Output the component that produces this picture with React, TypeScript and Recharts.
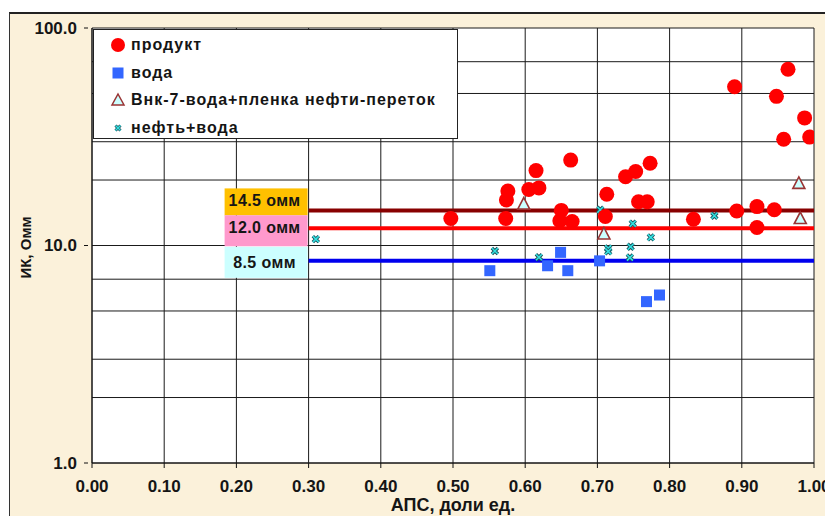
import React from "react";
import {
  ScatterChart,
  Scatter,
  XAxis,
  YAxis,
  CartesianGrid,
  ReferenceLine,
} from "recharts";

// точки: АПС (доли ед.) / ИК (Омм)
const productData = [
  { x: 0.497, y: 13.3 },
  { x: 0.576, y: 17.8 },
  { x: 0.574, y: 16.2 },
  { x: 0.573, y: 13.3 },
  { x: 0.605, y: 18.1 },
  { x: 0.619, y: 18.4 },
  { x: 0.615, y: 22.1 },
  { x: 0.65, y: 14.5 },
  { x: 0.648, y: 13.0 },
  { x: 0.665, y: 12.9 },
  { x: 0.663, y: 24.7 },
  { x: 0.713, y: 17.2 },
  { x: 0.711, y: 13.6 },
  { x: 0.739, y: 20.7 },
  { x: 0.753, y: 21.9 },
  { x: 0.773, y: 23.9 },
  { x: 0.757, y: 15.9 },
  { x: 0.769, y: 15.9 },
  { x: 0.833, y: 13.2 },
  { x: 0.893, y: 14.4 },
  { x: 0.921, y: 15.1 },
  { x: 0.921, y: 12.1 },
  { x: 0.945, y: 14.6 },
  { x: 0.89, y: 53.7 },
  { x: 0.964, y: 64.6 },
  { x: 0.948, y: 48.5 },
  { x: 0.987, y: 38.6 },
  { x: 0.958, y: 30.8 },
  { x: 0.994, y: 31.5 },
];

const waterData = [
  { x: 0.551, y: 7.66 },
  { x: 0.631, y: 8.07 },
  { x: 0.649, y: 9.3 },
  { x: 0.659, y: 7.66 },
  { x: 0.703, y: 8.5 },
  { x: 0.768, y: 5.52 },
  { x: 0.786, y: 5.92 },
];

const vnkData = [
  { x: 0.598, y: 15.5 },
  { x: 0.709, y: 11.3 },
  { x: 0.979, y: 19.3 },
  { x: 0.981, y: 13.3 },
];

const oilWaterData = [
  { x: 0.31, y: 10.7 },
  { x: 0.558, y: 9.44 },
  { x: 0.619, y: 8.83 },
  { x: 0.66, y: 13.0 },
  { x: 0.704, y: 14.6 },
  { x: 0.715, y: 9.7 },
  { x: 0.715, y: 9.4 },
  { x: 0.749, y: 12.6 },
  { x: 0.746, y: 9.87 },
  { x: 0.745, y: 8.8 },
  { x: 0.774, y: 10.9 },
  { x: 0.862, y: 13.7 },
];

// граничные значения
const cutoffs = [
  { y: 14.5, text: "14.5 омм" },
  { y: 12.0, text: "12.0 омм" },
  { y: 8.5, text: "8.5 омм" },
];
const cutoffStart = 0.3;

const xTicks = [0, 0.1, 0.2, 0.3, 0.4, 0.5, 0.6, 0.7, 0.8, 0.9, 1.0];
const yGrid = [
  1, 2, 3, 4, 5, 6, 7, 8, 9, 10, 20, 30, 40, 50, 60, 70, 80, 90, 100,
];
const yLabeled = [1, 10, 100];

const legendNames = [
  "продукт",
  "вода",
  "Внк-7-вода+пленка нефти-переток",
  "нефть+вода",
];

const FONT = "'Liberation Sans', Arial, sans-serif";
const TXT = "#151515";

const cutoffStyle: Record<string, any> = {
  "14.5 омм": { line: "#880000", box: "#FFC000", top: -22, bottom: 5, ty: -10 },
  "12.0 омм": { line: "#FF0000", box: "#FF99CC", top: -13, bottom: 18, ty: -1 },
  "8.5 омм": { line: "#0000EE", box: "#CCFFFF", top: -14, bottom: 17, ty: 2 },
};

const Circle = (p: any) => <circle cx={p.cx} cy={p.cy} r={7.5} fill="#FF0000" />;
const Square = (p: any) => (
  <rect x={p.cx - 5.5} y={p.cy - 5.5} width={11} height={11} fill="#3366FF" />
);
const Triangle = (p: any) => (
  <path
    d={`M${p.cx},${p.cy - 6.5} L${p.cx + 6},${p.cy + 5} L${p.cx - 6},${p.cy + 5} Z`}
    fill="#CCFFFF"
    stroke="#993333"
    strokeWidth={1.6}
  />
);
const Cross = (p: any) => {
  const d = `M${p.cx - 3},${p.cy - 3} L${p.cx + 3},${p.cy + 3} M${p.cx + 3},${p.cy - 3} L${p.cx - 3},${p.cy + 3}`;
  return (
    <g>
      <path d={d} stroke="#1b4f5a" strokeWidth={3.4} />
      <path d={d} stroke="#33E0E0" strokeWidth={1.6} />
    </g>
  );
};

const CutoffLabel = (p: any) => {
  const s = cutoffStyle[p.payload.text];
  return (
    <g>
      <rect
        x={p.cx - 84}
        y={p.cy + s.top}
        width={83}
        height={s.bottom - s.top}
        fill={s.box}
      />
      <text
        x={p.cx - 44}
        y={p.cy + s.ty}
        textAnchor="middle"
        dominantBaseline="central"
        fontFamily={FONT}
        fontSize={16}
        fontWeight={700}
        letterSpacing={0.4}
        fill={TXT}
      >
        {p.payload.text}
      </text>
    </g>
  );
};

const YTick = (p: any) => {
  const v = p.payload.value;
  if (!yLabeled.includes(v)) return null;
  return (
    <g>
      <line x1={p.x + 6} x2={p.x + 10} y1={p.y} y2={p.y} stroke="#111" />
      <text
        x={p.x - 1}
        y={p.y}
        textAnchor="end"
        dominantBaseline="central"
        fontFamily={FONT}
        fontSize={17}
        fontWeight={700}
        fill={TXT}
      >
        {v.toFixed(1)}
      </text>
    </g>
  );
};

const XTitle = (p: any) => {
  const vb = p.viewBox;
  return (
    <text
      x={vb.x + vb.width / 2}
      y={vb.y + vb.height - 9}
      textAnchor="middle"
      fontFamily={FONT}
      fontSize={18}
      fontWeight={700}
      fill={TXT}
    >
      АПС, доли ед.
    </text>
  );
};

const YTitle = (p: any) => {
  const vb = p.viewBox;
  const cx = 15;
  const cy = vb.y + vb.height / 2 + 2;
  return (
    <text
      x={cx}
      y={cy}
      transform={`rotate(-90 ${cx} ${cy})`}
      textAnchor="middle"
      dominantBaseline="central"
      fontFamily={FONT}
      fontSize={15}
      fontWeight={700}
      fill={TXT}
    >
      ИК, Омм
    </text>
  );
};

const legendMarkers = [
  <circle cx={8} cy={8} r={7} fill="#FF0000" />,
  <rect x={2.5} y={2.5} width={11} height={11} fill="#3366FF" />,
  <path d="M8,2 L14,13 L2,13 Z" fill="#CCFFFF" stroke="#993333" strokeWidth={1.5} />,
  <g>
    <path d="M5.5,5.5 L10.5,10.5 M10.5,5.5 L5.5,10.5" stroke="#1b4f5a" strokeWidth={3} />
    <path d="M5.5,5.5 L10.5,10.5 M10.5,5.5 L5.5,10.5" stroke="#33E0E0" strokeWidth={1.4} />
  </g>,
];

const W = 823;
const H = 506;

export default function App() {
  return (
    <div
      style={{
        position: "relative",
        left: 1,
        top: 4,
        width: W,
        height: H,
        background: "#FBF1DA",
        borderTop: "2px solid #222",
        borderLeft: "1px solid #333",
        fontFamily: FONT,
      }}
    >
      <ScatterChart
        width={W}
        height={H}
        margin={{ top: 14, right: 19, left: 0, bottom: 0 }}
      >
        <CartesianGrid stroke="#1a1a1a" fill="#FFFFFF" strokeWidth={1} />
        <XAxis
          type="number"
          dataKey="x"
          domain={[0, 1]}
          ticks={xTicks}
          tickFormatter={(v: number) => v.toFixed(2)}
          height={57}
          tickSize={5}
          tickMargin={12}
          stroke="#111"
          tick={{ fill: TXT, fontSize: 17, fontWeight: 700, fontFamily: FONT }}
          label={{ content: XTitle }}
          allowDataOverflow
        />
        <YAxis
          type="number"
          dataKey="y"
          scale="log"
          domain={[1, 100]}
          ticks={yGrid}
          width={82}
          tickLine={false}
          tickSize={4}
          tickMargin={10}
          stroke="#111"
          tick={<YTick />}
          label={{ content: YTitle }}
          allowDataOverflow
        />
        {cutoffs.map((c) => (
          <ReferenceLine
            key={c.text}
            segment={[
              { x: cutoffStart, y: c.y },
              { x: 1, y: c.y },
            ]}
            stroke={cutoffStyle[c.text].line}
            strokeWidth={4}
            ifOverflow="visible"
          />
        ))}
        <Scatter data={cutoffs.map((c) => ({ x: cutoffStart, y: c.y, text: c.text }))} shape={CutoffLabel} isAnimationActive={false} />
        <Scatter data={oilWaterData} shape={Cross} isAnimationActive={false} />
        <Scatter data={vnkData} shape={Triangle} isAnimationActive={false} />
        <Scatter data={waterData} shape={Square} isAnimationActive={false} />
        <Scatter data={productData} shape={Circle} isAnimationActive={false} />
      </ScatterChart>
      <div
        style={{
          position: "absolute",
          left: 83,
          top: 15,
          width: 363,
          height: 107,
          background: "#fff",
          border: "1.5px solid #222",
          paddingTop: 1,
        }}
      >
        {legendNames.map((name, i) => (
          <div
            key={name}
            style={{
              display: "flex",
              alignItems: "center",
              height: 27.8,
              paddingLeft: 16,
              fontSize: 16,
              fontWeight: 700,
              letterSpacing: 1,
              color: TXT,
              whiteSpace: "nowrap",
            }}
          >
            <svg width={16} height={16} style={{ marginRight: 5 }}>
              {legendMarkers[i]}
            </svg>
            {name}
          </div>
        ))}
      </div>
    </div>
  );
}
